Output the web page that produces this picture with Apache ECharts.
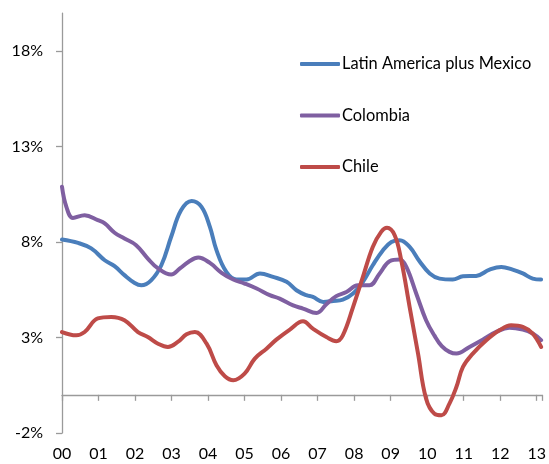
<!DOCTYPE html>
<html><head><meta charset="utf-8">
<script src="https://cdn.jsdelivr.net/npm/echarts@6/dist/echarts.min.js"></script>
<style>html,body{margin:0;padding:0;background:#fff}#c{width:549px;height:464px}</style>
</head><body><div id="c"></div>
<script>
// Years since 2000 (x) and inflation % (y)
const latamT = [0,0.44,0.80,1.17,1.44,1.71,1.99,2.17,2.44,2.72,2.99,3.26,3.55,3.82,4.05,4.23,4.5,4.78,5.05,5.42,5.78,6.15,6.42,6.69,6.87,7.15,7.42,7.69,7.97,8.24,8.51,8.79,9.02,9.25,9.52,9.79,10.07,10.34,10.7,10.98,11.34,11.71,12.03,12.34,12.62,12.89,13.12];
const latamV = [8.14,7.96,7.67,7.05,6.74,6.27,5.86,5.74,6.0,6.79,8.28,9.67,10.16,9.85,8.8,7.58,6.44,6.04,6.04,6.36,6.18,5.92,5.48,5.22,5.13,4.87,4.92,4.99,5.31,5.92,6.79,7.58,8.01,8.1,7.75,7.0,6.36,6.09,6.04,6.21,6.23,6.56,6.7,6.56,6.36,6.09,6.04];

const colT = [0,0.12,0.30,0.62,0.98,1.17,1.44,1.71,2.03,2.35,2.63,2.99,3.23,3.46,3.73,4.05,4.37,4.69,5.0,5.33,5.69,5.96,6.33,6.6,6.97,7.24,7.51,7.79,8.1,8.42,8.7,8.97,9.25,9.43,9.7,9.97,10.2,10.4,10.61,10.8,11.16,11.52,11.89,12.25,12.62,12.89,13.12];
const colV = [10.9,9.85,9.27,9.41,9.15,8.98,8.49,8.19,7.84,7.14,6.62,6.3,6.62,6.96,7.19,6.91,6.39,6.04,5.83,5.57,5.22,5.04,4.69,4.52,4.29,4.75,5.17,5.39,5.74,5.74,6.36,7.0,7.09,6.7,5.31,3.91,3.1,2.55,2.25,2.16,2.51,2.89,3.3,3.52,3.42,3.21,2.86];

const chileT = [0,0.39,0.62,0.98,1.35,1.71,2.08,2.35,2.63,2.9,3.17,3.41,3.64,3.96,4.23,4.46,4.69,5.0,5.28,5.6,5.87,6.24,6.6,6.87,7.24,7.51,7.69,7.97,8.24,8.51,8.74,8.9,9.11,9.29,9.52,9.75,9.97,10.2,10.39,10.61,10.8,10.98,11.25,11.62,11.98,12.3,12.62,12.89,13.12];
const chileV = [3.29,3.12,3.29,4.0,4.08,3.91,3.29,3.03,2.68,2.51,2.77,3.17,3.29,2.68,1.55,0.97,0.76,1.11,1.9,2.42,2.89,3.42,3.85,3.47,3.03,2.81,3.12,4.6,6.18,7.75,8.54,8.75,8.36,7.05,4.6,2.16,-0.2,-0.99,-1.07,-0.46,0.41,1.46,2.16,2.86,3.38,3.64,3.56,3.21,2.51];

const yTicks = [-2,3,8,13,18];
const names = ['Latin America plus Mexico','Colombia','Chile'];
const colors = ['#4A7EBB','#7F5FA1','#BE4B48'];

const pair = (t,v) => t.map((x,i)=>[x,v[i]]);
const font = 'Lato, "Open Sans", sans-serif';
const chart = echarts.init(document.getElementById('c'), null, {renderer:'canvas'});
const xCommon = {type:'value', min:0, max:13.15, interval:1, splitLine:{show:false}};
chart.setOption({
  animation:false,
  grid:{left:62, right:6.3, top:13.1, bottom:31},
  legend:{
    orient:'vertical', left:300, top:54, padding:0, itemWidth:40, itemHeight:4, itemGap:31.5,
    icon:'roundRect',
    textStyle:{fontFamily:font, fontSize:16.4, color:'#000', lineHeight:20, padding:[0,0,0,-3]},
    data:names
  },
  xAxis:[
    Object.assign({}, xCommon, {
      position:'bottom',
      axisLine:{onZero:true, lineStyle:{color:'#9a9a9a', width:1.3}},
      axisTick:{show:true, inside:false, length:6, lineStyle:{color:'#9a9a9a', width:1.3}},
      axisLabel:{show:false}
    }),
    Object.assign({}, xCommon, {
      position:'bottom',
      axisLine:{show:false, onZero:false},
      axisTick:{show:false},
      axisLabel:{show:true, margin:13, fontFamily:font, fontSize:16, color:'#000',
        formatter:(v)=> Math.abs(v-Math.round(v))<1e-6 ? String(Math.round(v)).padStart(2,'0') : ''}
    })
  ],
  yAxis:{
    type:'value', min:-2, max:20, interval:2,
    splitLine:{show:false},
    axisLine:{show:true, onZero:false, lineStyle:{color:'#9a9a9a', width:1.3}},
    axisTick:{show:true, length:6, customValues:yTicks, lineStyle:{color:'#9a9a9a', width:1.3}},
    axisLabel:{show:true, margin:19, customValues:yTicks, fontFamily:font, fontSize:16, color:'#000',
      formatter:(v)=> v+'%'}
  },
  series:[
    {name:names[0], type:'line', xAxisIndex:0, data:pair(latamT,latamV)},
    {name:names[1], type:'line', xAxisIndex:0, data:pair(colT,colV)},
    {name:names[2], type:'line', xAxisIndex:0, data:pair(chileT,chileV)}
  ].map((s,i)=>Object.assign(s,{
    smooth:0.4, showSymbol:false, symbol:'none',
    lineStyle:{color:colors[i], width:4, cap:'round', join:'round'},
    itemStyle:{color:colors[i]}
  }))
});
</script></body></html>
